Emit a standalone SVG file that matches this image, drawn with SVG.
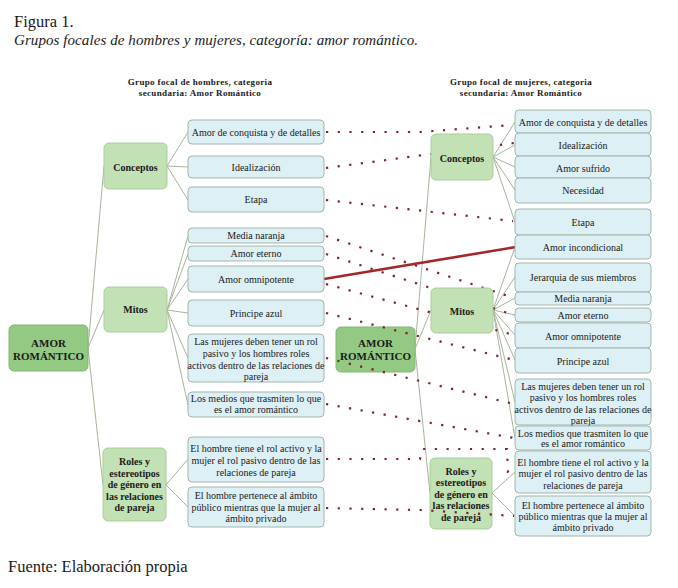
<svg xmlns="http://www.w3.org/2000/svg" width="678" height="588" viewBox="0 0 678 588" font-family="'Liberation Serif', 'Times New Roman', Times, 'DejaVu Serif', serif">
<style>
text{fill:#1a1a1a}
.t{font-size:10px;text-anchor:middle}
.c{font-size:10px;font-weight:bold;text-anchor:middle}
.r{font-size:11px;font-weight:bold;text-anchor:middle}
.h{font-size:9px;font-weight:bold;text-anchor:middle;letter-spacing:0.35px}
.leaf{fill:#ddf0f6;stroke:#a3b6aa;stroke-width:1}
.cat{fill:#c2e1b4;stroke:#a9cd9b;stroke-width:1}
.root{fill:#93c983;stroke:#80b772;stroke-width:1}
.ln{stroke:#a9b39c;stroke-width:1;fill:none}
.dot{stroke:#7c2232;stroke-width:2.2;stroke-dasharray:2.2 9.5;fill:none}
.red{stroke:#a2272b;stroke-width:2.6;fill:none}
</style>
<rect width="678" height="588" fill="#ffffff"/>
<text x="14" y="27" font-size="16.5">Figura 1.</text>
<text x="14" y="45" font-size="15" font-style="italic" textLength="404" lengthAdjust="spacing">Grupos focales de hombres y mujeres, categoría: amor romántico.</text>
<text x="8" y="572" font-size="16.5">Fuente: Elaboración propia</text>
<text class="h" x="200" y="85">Grupo focal de hombres, categoria</text>
<text class="h" x="200" y="96">secundaria: Amor Romántico</text>
<text class="h" x="521" y="85">Grupo focal de mujeres, categoria</text>
<text class="h" x="521" y="96">secundaria: Amor Romántico</text>

<g id="connectors">
<path class="ln" d="M88,348L104,166M88,348L104,310M88,348L103,485"/>
<path class="ln" d="M167,166L188,132M167,166L188,167M167,166L188,200"/>
<path class="ln" d="M167,310L188,236M167,310L188,254M167,310L188,279M167,310L188,313M167,310L188,358M167,310L188,405"/>
<path class="ln" d="M166,485L188,459M166,485L188,507"/>
<path class="ln" d="M415,349L431,157M415,349L431,310M415,349L430,493"/>
<path class="ln" d="M493,157L515,122M493,157L515,145M493,157L515,167M493,157L515,190M493,157L515,222"/>
<path class="ln" d="M493,310L515,247M493,310L515,277M493,310L515,298M493,310L515,315M493,310L515,335M493,310L515,360M493,310L515,402M493,310L515,438"/>
<path class="ln" d="M492,493L515,472M492,493L515,516"/>
</g>

<g id="root-left"><rect class="root" x="9" y="325" width="79" height="46" rx="5"/><text class="r" x="48.5" y="347">AMOR</text><text class="r" x="48.5" y="360">ROMÁNTICO</text></g>
<g id="root-right"><rect class="root" x="336" y="327" width="79" height="45" rx="5"/><text class="r" x="375.5" y="347">AMOR</text><text class="r" x="375.5" y="360">ROMÁNTICO</text></g>

<g id="links">
<path class="dot" d="M326,132L420,132L512,125"/>
<path class="dot" d="M326,168L514,143"/>
<path class="dot" d="M326,200L513,221"/>
<path class="dot" d="M326,236L514,298"/>
<path class="dot" d="M326,254L514,315"/>
<path class="dot" d="M326,284L514,335"/>
<path class="dot" d="M326,313L514,360"/>
<path class="dot" d="M326,358L514,404"/>
<path class="dot" d="M326,404L514,438"/>
<path class="dot" d="M326,459L420,459L422,449L507,449L508,472L514,472"/>
<path class="red" d="M324,279L516,247"/>
</g>

<g id="cat-left-conceptos"><rect class="cat" x="104" y="143" width="63" height="46" rx="5"/><text class="c" x="135.5" y="170.5">Conceptos</text></g>
<g id="cat-left-mitos"><rect class="cat" x="104" y="287" width="63" height="45" rx="5"/><text class="c" x="135.5" y="312.5">Mitos</text></g>
<g id="cat-left-roles"><rect class="cat" x="103" y="448" width="63" height="73" rx="5"/><text class="c" x="134.5" y="465">Roles y</text><text class="c" x="134.5" y="476.5">estereotipos</text><text class="c" x="134.5" y="488">de género en</text><text class="c" x="134.5" y="499.5">las relaciones</text><text class="c" x="134.5" y="511">de pareja</text></g>

<g id="cat-right-conceptos"><rect class="cat" x="431" y="134" width="62" height="46" rx="5"/><text class="c" x="462" y="161.5">Conceptos</text></g>
<g id="cat-right-mitos"><rect class="cat" x="431" y="288" width="62" height="45" rx="5"/><text class="c" x="462" y="314.5">Mitos</text></g>
<g id="cat-right-roles"><rect class="cat" x="430" y="458" width="62" height="71" rx="5"/><text class="c" x="461" y="474.5">Roles y</text><text class="c" x="461" y="485.5">estereotipos</text><text class="c" x="461" y="497.5">de género en</text><text class="c" x="461" y="508.5">las relaciones</text><text class="c" x="461" y="520.5">de pareja</text></g>

<g id="l1"><rect class="leaf" x="188" y="120" width="136" height="24" rx="4"/><text class="t" x="256" y="135.5">Amor de conquista y de detalles</text></g>
<g id="l2"><rect class="leaf" x="188" y="156" width="136" height="22" rx="4"/><text class="t" x="256" y="170.5">Idealización</text></g>
<g id="l3"><rect class="leaf" x="188" y="187" width="136" height="25" rx="4"/><text class="t" x="256" y="203">Etapa</text></g>
<g id="l4"><rect class="leaf" x="188" y="228" width="136" height="15" rx="4"/><text class="t" x="256" y="239">Media naranja</text></g>
<g id="l5"><rect class="leaf" x="188" y="246" width="136" height="15" rx="4"/><text class="t" x="256" y="257">Amor eterno</text></g>
<g id="l6"><rect class="leaf" x="188" y="266" width="136" height="26" rx="4"/><text class="t" x="256" y="282.5">Amor omnipotente</text></g>
<g id="l7"><rect class="leaf" x="188" y="300" width="136" height="26" rx="4"/><text class="t" x="256" y="316.5">Principe azul</text></g>
<g id="l8"><rect class="leaf" x="188" y="334" width="136" height="48" rx="4"/><text class="t" x="256" y="345">Las mujeres deben tener un rol</text><text class="t" x="256" y="357">pasivo y los hombres roles</text><text class="t" x="256" y="369">activos dentro de las relaciones de</text><text class="t" x="256" y="380">pareja</text></g>
<g id="l9"><rect class="leaf" x="188" y="392" width="136" height="25" rx="4"/><text class="t" x="256" y="401.5">Los medios que trasmiten lo que</text><text class="t" x="256" y="412.5">es el amor romántico</text></g>
<g id="l10"><rect class="leaf" x="188" y="437" width="136" height="45" rx="4"/><text class="t" x="256" y="451.5">El hombre tiene el rol activo y la</text><text class="t" x="256" y="463.5">mujer el rol pasivo dentro de las</text><text class="t" x="256" y="475.5">relaciones de pareja</text></g>
<g id="l11"><rect class="leaf" x="188" y="487" width="136" height="40" rx="4"/><text class="t" x="256" y="498.5">El hombre pertenece al ámbito</text><text class="t" x="256" y="510.5">público mientras que la mujer al</text><text class="t" x="256" y="521.5">ámbito privado</text></g>

<g id="r1"><rect class="leaf" x="515" y="110" width="136" height="23" rx="4"/><text class="t" x="583" y="125.5">Amor de conquista y de detalles</text></g>
<g id="r2"><rect class="leaf" x="515" y="133" width="136" height="23" rx="4"/><text class="t" x="583" y="148.5">Idealización</text></g>
<g id="r3"><rect class="leaf" x="515" y="156" width="136" height="22" rx="4"/><text class="t" x="583" y="171.5">Amor sufrido</text></g>
<g id="r4"><rect class="leaf" x="515" y="178" width="136" height="25" rx="4"/><text class="t" x="583" y="193.5">Necesidad</text></g>
<g id="r5"><rect class="leaf" x="515" y="209" width="136" height="26" rx="4"/><text class="t" x="583" y="225.5">Etapa</text></g>
<g id="r6"><rect class="leaf" x="515" y="235" width="136" height="24" rx="4"/><text class="t" x="583" y="250.5">Amor incondicional</text></g>
<g id="r7"><rect class="leaf" x="515" y="263" width="136" height="29" rx="4"/><text class="t" x="583" y="280.5">Jerarquia de sus miembros</text></g>
<g id="r8"><rect class="leaf" x="515" y="292" width="136" height="13" rx="4"/><text class="t" x="583" y="301.5">Media naranja</text></g>
<g id="r9"><rect class="leaf" x="515" y="308" width="136" height="14" rx="4"/><text class="t" x="583" y="318.5">Amor eterno</text></g>
<g id="r10"><rect class="leaf" x="515" y="323" width="136" height="25" rx="4"/><text class="t" x="583" y="339.5">Amor omnipotente</text></g>
<g id="r11"><rect class="leaf" x="515" y="348" width="136" height="25" rx="4"/><text class="t" x="583" y="364.5">Principe azul</text></g>
<g id="r12"><rect class="leaf" x="515" y="379" width="136" height="46" rx="4"/><text class="t" x="583" y="389.5">Las mujeres deben tener un rol</text><text class="t" x="583" y="400.5">pasivo y los hombres roles</text><text class="t" x="583" y="412.5">activos dentro de las relaciones de</text><text class="t" x="583" y="424">pareja</text></g>
<g id="r13"><rect class="leaf" x="515" y="426" width="136" height="24" rx="4"/><text class="t" x="583" y="436.5">Los medios que trasmiten lo que</text><text class="t" x="583" y="446.5">es el amor romántico</text></g>
<g id="r14"><rect class="leaf" x="515" y="451" width="136" height="42" rx="4"/><text class="t" x="583" y="465.5">El hombre tiene el rol activo y la</text><text class="t" x="583" y="476.5">mujer el rol pasivo dentro de las</text><text class="t" x="583" y="488.5">relaciones de pareja</text></g>
<g id="r15"><rect class="leaf" x="515" y="496" width="136" height="40" rx="4"/><text class="t" x="583" y="508.5">El hombre pertenece al ámbito</text><text class="t" x="583" y="519.5">público mientras que la mujer al</text><text class="t" x="583" y="530.5">ámbito privado</text></g>

<g id="link-pertenece"><path class="dot" d="M326,508L420,510L514,516"/></g>
</svg>
